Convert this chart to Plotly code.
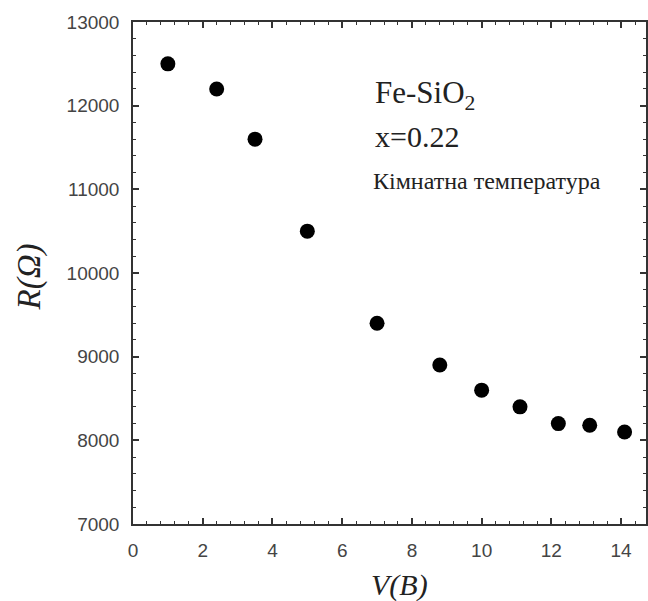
import plotly.graph_objects as go

voltage = [1.0, 2.4, 3.5, 5.0, 7.0, 8.8, 10.0, 11.1, 12.2, 13.1, 14.1]
resistance = [12500, 12200, 11600, 10500, 9400, 8900, 8600, 8400, 8200, 8180, 8100]

W, H = 648, 601
L, T, B, R = 133, 22, 77, 0
PW, PH = W - L - R, H - T - B

def px(x):
    return (x - L) / PW

def py(y):
    return (H - B - y) / PH

fig = go.Figure()
fig.add_trace(go.Scatter(
    x=voltage, y=resistance, mode="markers",
    marker=dict(color="black", size=15, symbol="circle"),
    showlegend=False,
))

axis_common = dict(
    showline=True, linecolor="#333", linewidth=1.5, mirror="ticks",
    ticks="inside", ticklen=6, tickwidth=1.5, tickcolor="#333",
    showgrid=False, zeroline=False, tickformat="d",
    tickfont=dict(family="Liberation Sans, Arial", size=19, color="#444"),
)

fig.update_xaxes(
    range=[0, PW / 35.0], dtick=2, tick0=0,
    minor=dict(dtick=0.4, ticks="inside", ticklen=3, tickcolor="#333", tickwidth=1),
    ticklabelstandoff=8,
    **axis_common,
)
fig.update_yaxes(
    range=[7000, 13000], dtick=1000, tick0=7000,
    minor=dict(dtick=200, ticks="inside", ticklen=3, tickcolor="#333", tickwidth=1),
    ticklabelstandoff=8,
    **axis_common,
)

serif = "Liberation Serif, Times New Roman, serif"
annotations = [
    dict(text="Fe-SiO<sub>2</sub>", x=px(374), y=py(95), xanchor="left", yanchor="middle",
         font=dict(family=serif, size=31, color="#222")),
    dict(text="x=0.22", x=px(374), y=py(136), xanchor="left", yanchor="middle",
         font=dict(family=serif, size=30, color="#222")),
    dict(text="Кімнатна температура", x=px(372), y=py(181), xanchor="left", yanchor="middle",
         font=dict(family=serif, size=24, color="#222")),
    dict(text="<i>R(Ω)</i>", x=px(29), y=py(277), xanchor="center", yanchor="middle",
         textangle=-90, font=dict(family=serif, size=33, color="#222")),
    dict(text="<i>V(B)</i>", x=px(401), y=py(585), xanchor="center", yanchor="middle",
         font=dict(family=serif, size=30, color="#222")),
]
for a in annotations:
    a.update(xref="paper", yref="paper", showarrow=False)

fig.update_layout(
    width=W, height=H,
    margin=dict(l=L, r=R, t=T, b=B, pad=0),
    plot_bgcolor="white", paper_bgcolor="white",
    annotations=annotations,
)

fig.write_html("out.html")
